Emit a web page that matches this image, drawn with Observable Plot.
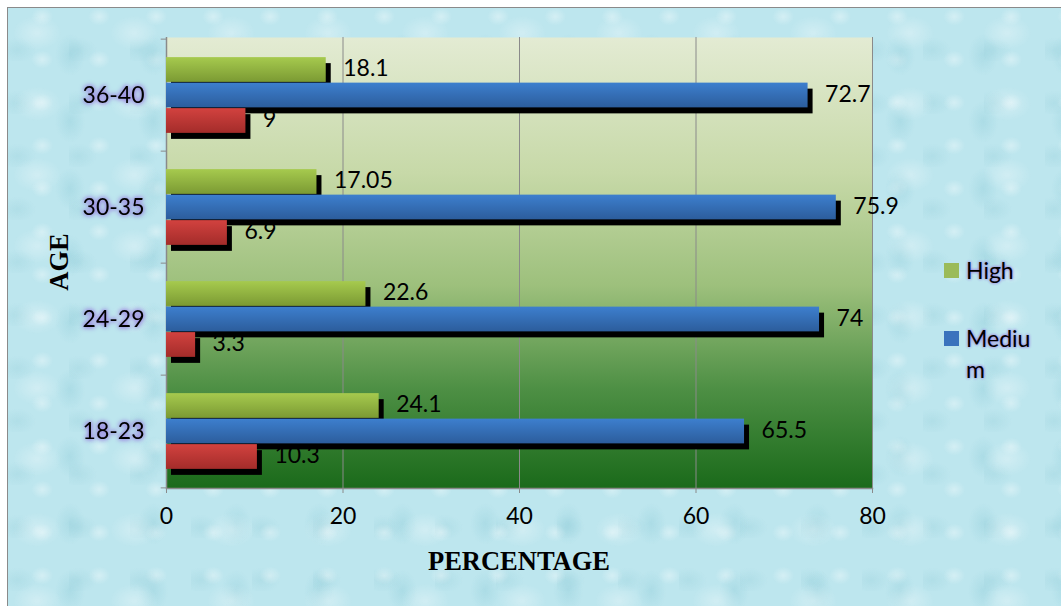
<!DOCTYPE html>
<html>
<head>
<meta charset="utf-8">
<script src="https://cdn.jsdelivr.net/npm/d3@7"></script>
<script src="https://cdn.jsdelivr.net/npm/@observablehq/plot@0.6"></script>
<style>
  html, body { margin: 0; padding: 0; background: #fff; }
  #wrap { position: relative; width: 1061px; height: 606px; overflow: hidden; background: #fff; }
  #bg { position: absolute; left: 7px; top: 7px; width: 1060px; height: 600px;
        border-left: 1.5px solid #8a8a8a; border-top: 1.5px solid #8a8a8a;
        background-color: #bde6ee;
        background-image:
          radial-gradient(ellipse 24px 17px at 30% 35%, rgba(255,255,255,0.3), rgba(255,255,255,0) 100%),
          radial-gradient(ellipse 15px 21px at 75% 70%, rgba(120,190,205,0.25), rgba(120,190,205,0) 100%),
          radial-gradient(ellipse 11px 9px at 60% 20%, rgba(255,255,255,0.35), rgba(255,255,255,0) 100%),
          radial-gradient(ellipse 19px 13px at 15% 80%, rgba(140,200,212,0.25), rgba(140,200,212,0) 100%);
        background-size: 97px 71px, 83px 67px, 57px 43px, 61px 53px; }
  #chart { position: absolute; left: 0; top: 0; }
  .ylab text { filter: drop-shadow(0 0 2px #9a86e0) drop-shadow(0 0 2px #9a86e0); }
  .title { position: absolute; font-family: "Liberation Serif", "DejaVu Serif", serif; font-weight: bold; font-size: 26.5px; color: #000; white-space: nowrap; }
  #xtitle { left: 519px; top: 561px; transform: translate(-50%, -50%); }
  #ytitle { left: 59px; top: 262px; transform: translate(-50%, -50%) rotate(-90deg); }
  .legend { position: absolute; font-family: Lato, "Open Sans", sans-serif; font-size: 23px; color: #000; }
  .legend .sw { position: absolute; width: 15px; height: 15px; }
  .legend .lab { position: absolute; left: 22px; line-height: 31px; text-shadow: 0 0 3px #9a86e0, 0 0 3px #9a86e0; }
</style>
</head>
<body>
<div id="wrap">
  <div id="bg"></div>
  <div id="chart"></div>
  <div id="xtitle" class="title">PERCENTAGE</div>
  <div id="ytitle" class="title">AGE</div>
  <div id="legend"></div>
</div>
<script>
const ages = ["18-23", "24-29", "30-35", "36-40"];
const highValues = [24.1, 22.6, 17.05, 18.1];
const mediumValues = [65.5, 74, 75.9, 72.7];
const lowValues = [10.3, 3.3, 6.9, 9];
const seriesNames = ["High", "Medium", "Low"];
const legendNames = ["High", "Medium"];
const xTicks = [0, 20, 40, 60, 80];

const W = 1061, H = 606;
const mL = 166, mT = 37, mR = 189, mB = 118;
const band = (H - mT - mB) / ages.length;
const thick = 25.5;
const pad = (band - 3 * thick) / 2;

const seriesStyle = {
  High:   {grad: "gHigh",   top: pad,               off: -thick, c1: "#a6ca4e", c2: "#7b9a33", sw: "#9bbb59"},
  Medium: {grad: "gMedium", top: pad + thick,       off: 0,      c1: "#3d7fce", c2: "#2c5d9c", sw: "#3a73bd"},
  Low:    {grad: "gLow",    top: pad + 2 * thick,   off: thick,  c1: "#d2423f", c2: "#a42c2a", sw: "#c0504d"}
};

const valuesBySeries = {High: highValues, Medium: mediumValues, Low: lowValues};
const data = seriesNames.map(s => ages.map((a, i) => ({age: a, series: s, value: valuesBySeries[s][i]})));

const marks = [
  Plot.frame({fill: "url(#gBg)"}),
  Plot.gridX(xTicks.slice(1), {stroke: "#8a8a8a", strokeOpacity: 1, strokeWidth: 1}),
  Plot.ruleX([0], {stroke: "#8a8a8a", strokeWidth: 1.5}),
  Plot.frame({anchor: "bottom", stroke: "#8a8a8a", strokeWidth: 1.5}),
  Plot.ruleY(ages, {y: d => d, x1: 0, x2: -0.6, dy: -band / 2, stroke: "#8a8a8a"}),
  Plot.ruleY(ages.slice(0, 1), {y: d => d, x1: 0, x2: -0.6, dy: band / 2, stroke: "#8a8a8a"}),
];
// shadows
seriesNames.forEach((s, k) => {
  const st = seriesStyle[s];
  marks.push(Plot.barX(data[k], {x: "value", y: "age", fill: "#000", dx: 5, dy: 6,
    insetTop: st.top, insetBottom: band - st.top - thick}));
});
// bars
seriesNames.forEach((s, k) => {
  const st = seriesStyle[s];
  marks.push(Plot.barX(data[k], {x: "value", y: "age", fill: `url(#${st.grad})`,
    insetTop: st.top, insetBottom: band - st.top - thick}));
});
// value labels
seriesNames.forEach((s, k) => {
  const st = seriesStyle[s];
  marks.push(Plot.text(data[k], {x: "value", y: "age", text: d => String(d.value), dx: 17, dy: st.off - 1,
    textAnchor: "start", fontSize: 23, fill: "#000", fontFamily: "Lato"}));
});
marks.push(Plot.axisX({ticks: xTicks, tickSize: 5, tickPadding: 14, stroke: "#8a8a8a", fontSize: 23, label: null, fontFamily: "Lato", fill: "#000"}));
marks.push(Plot.axisY({tickSize: 0, tickPadding: 22, fontSize: 23, label: null, fontFamily: "Lato", className: "ylab", fill: "#000"}));

const chart = Plot.plot({
  width: W, height: H,
  marginLeft: mL, marginTop: mT, marginRight: mR, marginBottom: mB,
  style: {background: "transparent", overflow: "visible", fontFamily: "Lato"},
  x: {domain: [0, 80], axis: null},
  y: {domain: ages.slice().reverse(), padding: 0, axis: null},
  marks
});

// gradients
const ns = "http://www.w3.org/2000/svg";
const defs = document.createElementNS(ns, "defs");
function addGrad(id, stops) {
  const g = document.createElementNS(ns, "linearGradient");
  g.setAttribute("id", id);
  g.setAttribute("x1", "0"); g.setAttribute("y1", "0");
  g.setAttribute("x2", "0"); g.setAttribute("y2", "1");
  stops.forEach(([o, c]) => {
    const s = document.createElementNS(ns, "stop");
    s.setAttribute("offset", o);
    s.setAttribute("stop-color", c);
    g.appendChild(s);
  });
  defs.appendChild(g);
}
addGrad("gBg", [[0, "#e3ebd3"], [0.3, "#c7d9a8"], [0.55, "#9dc07c"], [0.78, "#4d8f44"], [1, "#1a6a1a"]]);
seriesNames.forEach(s => {
  const st = seriesStyle[s];
  addGrad(st.grad, [[0, st.c1], [1, st.c2]]);
});
chart.insertBefore(defs, chart.firstChild);
document.getElementById("chart").appendChild(chart);

// legend
const legend = document.getElementById("legend");
legendNames.forEach((name, i) => {
  const box = document.createElement("div");
  box.className = "legend";
  box.style.left = "944px";
  box.style.top = (i === 0 ? 263 : 331) + "px";
  const sw = document.createElement("div");
  sw.className = "sw";
  sw.style.background = seriesStyle[name].sw;
  const lab = document.createElement("div");
  lab.className = "lab";
  lab.style.top = "-8px";
  lab.style.width = "74px";
  lab.style.wordBreak = "break-all";
  lab.textContent = name;
  box.appendChild(sw);
  box.appendChild(lab);
  legend.appendChild(box);
});
</script>
</body>
</html>
